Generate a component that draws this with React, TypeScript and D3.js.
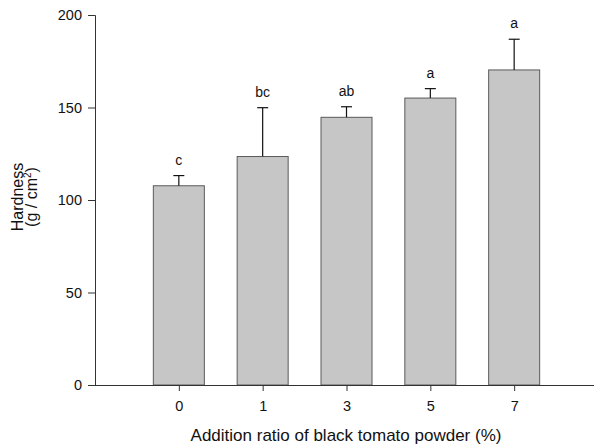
import React, { useEffect, useRef } from 'react'
import * as d3 from 'd3'

// addition ratio categories (%)
const ratios = ['0', '1', '3', '5', '7']
// hardness means and standard deviations (g / cm2)
const hardness = [107.7, 123.5, 144.7, 155.1, 170.3]
const errors = [5.5, 26.4, 5.7, 5.1, 16.6]
// Duncan letters
const letters = ['c', 'bc', 'ab', 'a', 'a']
const yTicks = [0, 50, 100, 150, 200]

const W = 594
const H = 447
const FONT = '"Liberation Sans", Arial, sans-serif'

const App = () => {
  const ref = useRef<SVGSVGElement>(null)

  useEffect(() => {
    const svg = d3.select(ref.current)
    svg.selectAll('*').remove()

    const left = 95
    const right = 598
    const top = 15
    const bottom = 385

    const x = d3.scalePoint<string>()
      .domain(ratios)
      .range([left, right])
      .padding(1)

    const y = d3.scaleLinear()
      .domain([0, 200])
      .range([bottom, top])

    const barW = 51
    const data = ratios.map((r, i) => ({ r, v: hardness[i], e: errors[i], l: letters[i] }))

    // bars
    svg.append('g')
      .selectAll('rect')
      .data(data)
      .enter().append('rect')
      .attr('x', d => (x(d.r) as number) - barW / 2)
      .attr('y', d => y(d.v))
      .attr('width', barW)
      .attr('height', d => y(0) - y(d.v))
      .attr('fill', '#c6c6c6')
      .attr('stroke', '#5a5a5a')
      .attr('stroke-width', 1)

    // error bars (upper only)
    const eb = svg.append('g')
      .attr('stroke', '#111')
      .attr('stroke-width', 1.2)
    eb.selectAll('line.v')
      .data(data)
      .enter().append('line')
      .attr('class', 'v')
      .attr('x1', d => x(d.r) as number)
      .attr('x2', d => x(d.r) as number)
      .attr('y1', d => y(d.v))
      .attr('y2', d => y(d.v + d.e))
    eb.selectAll('line.c')
      .data(data)
      .enter().append('line')
      .attr('class', 'c')
      .attr('x1', d => (x(d.r) as number) - 5.5)
      .attr('x2', d => (x(d.r) as number) + 5.5)
      .attr('y1', d => y(d.v + d.e))
      .attr('y2', d => y(d.v + d.e))

    // letters
    svg.append('g')
      .selectAll('text')
      .data(data)
      .enter().append('text')
      .attr('x', d => x(d.r) as number)
      .attr('y', d => y(d.v + d.e) - 11)
      .attr('text-anchor', 'middle')
      .attr('font-family', FONT)
      .attr('font-size', 14)
      .attr('fill', '#111')
      .text(d => d.l)

    // y axis
    const ya = svg.append('g')
      .attr('transform', `translate(${left},0)`)
      .call(d3.axisLeft(y).tickValues(yTicks).tickSize(7).tickPadding(6))
    ya.select('.domain').attr('stroke', '#333')
    ya.selectAll('.tick line').attr('stroke', '#333')
    ya.selectAll('.tick text')
      .attr('font-family', FONT)
      .attr('font-size', 14.5)
      .attr('fill', '#111')

    // x axis
    const xa = svg.append('g')
      .attr('transform', `translate(0,${bottom})`)
      .call(d3.axisBottom(x).tickSize(6).tickPadding(9.5).tickSizeOuter(0))
    xa.select('.domain').attr('stroke', '#333').attr('d', `M${left},0.5H${W}`)
    xa.selectAll('.tick line').attr('stroke', '#333')
    xa.selectAll('.tick text')
      .attr('font-family', FONT)
      .attr('font-size', 14.5)
      .attr('fill', '#111')

    // axis titles
    svg.append('text')
      .attr('x', 346)
      .attr('y', 441)
      .attr('text-anchor', 'middle')
      .attr('font-family', FONT)
      .attr('font-size', 17)
      .attr('fill', '#111')
      .text('Addition ratio of black tomato powder (%)')

    const yt = svg.append('text')
      .attr('transform', 'translate(23,197) rotate(-90)')
      .attr('text-anchor', 'middle')
      .attr('font-family', FONT)
      .attr('font-size', 16)
      .attr('fill', '#111')
    yt.append('tspan').attr('x', 0).attr('dy', 0).text('Hardness')
    yt.append('tspan').attr('x', 0).attr('dy', 14).text('(g / cm')
    yt.append('tspan').attr('dy', -6).attr('font-size', 10).text('2')
    yt.append('tspan').attr('dy', 6).text(')')
  }, [])

  return (
    <div style={{ position: 'absolute', left: 0, top: 0 }}>
      <svg ref={ref} width={W} height={H} style={{ display: 'block', background: '#fff' }} />
    </div>
  )
}

export default App
